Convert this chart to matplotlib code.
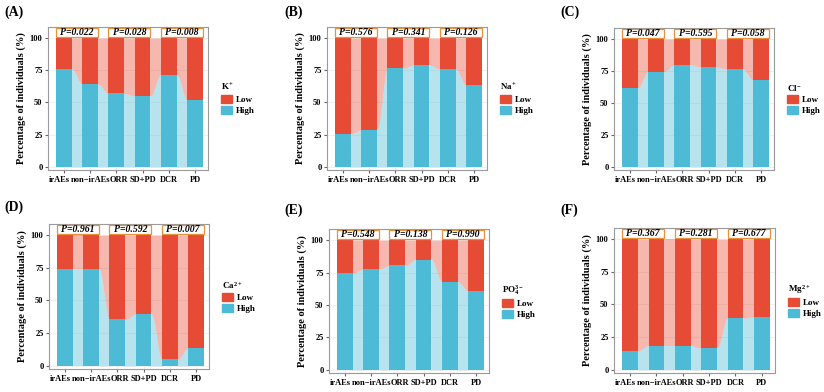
import numpy as np
import matplotlib
matplotlib.use("Agg")
import matplotlib.pyplot as plt
import matplotlib.transforms as mtransforms
from matplotlib.patches import Rectangle, Patch

plt.rcParams['font.family'] = ['Liberation Serif', 'DejaVu Serif']
plt.rcParams['font.weight'] = 'bold'
plt.rcParams['mathtext.fontset'] = 'custom'
plt.rcParams['mathtext.rm'] = 'Liberation Serif:bold'
plt.rcParams['mathtext.it'] = 'Liberation Serif:italic:bold'
plt.rcParams['mathtext.bf'] = 'Liberation Serif:bold'
plt.rcParams['mathtext.default'] = 'bf'

groups = ["irAEs", "non\u2212irAEs", "ORR", "SD+PD", "DCR", "PD"]
panel_tags = ["(A)", "(B)", "(C)", "(D)", "(E)", "(F)"]
ions = [r"K$^{+}$", r"Na$^{+}$", r"Cl$^{-}$", r"Ca$^{2+}$", r"PO$_{4}^{3-}$", r"Mg$^{2+}$"]

# percentage "High" for each group
high_K = [76, 64, 57, 55, 71.5, 52]
high_Na = [25.5, 28.5, 76.5, 79, 76, 63.5]
high_Cl = [62, 74.5, 80, 78, 76.5, 68]
high_Ca = [74, 74, 35.5, 39.5, 5, 13.5]
high_PO4 = [74.5, 77.5, 80.5, 85, 68, 61]
high_Mg = [14.5, 18.5, 18.5, 16.5, 39.5, 40.5]
highs = [high_K, high_Na, high_Cl, high_Ca, high_PO4, high_Mg]

p_K = ["0.022", "0.028", "0.008"]
p_Na = ["0.576", "0.341", "0.126"]
p_Cl = ["0.047", "0.595", "0.058"]
p_Ca = ["0.961", "0.592", "0.007"]
p_PO4 = ["0.548", "0.138", "0.990"]
p_Mg = ["0.367", "0.281", "0.677"]
pvals = [p_K, p_Na, p_Cl, p_Ca, p_PO4, p_Mg]

RED = "#E64B35"
BLUE = "#4DBBD5"
W, H = 824, 392

# axes boxes in pixels: left, top, right, bottom
boxes = [(48, 27, 208, 170), (327, 27, 487, 170), (614, 28, 774, 170),
         (49, 224, 209, 369), (329, 229, 489, 373), (614, 228, 775, 373)]
tag_pos = [(4, 12), (284, 12), (560, 12), (4, 207), (284, 210), (560, 210)]
label_nudge = [-5, 0, 2.5, 0, 0, 0]  # px

fig = plt.figure(figsize=(W / 100, H / 100), dpi=100)
bw = 0.6

for k in range(6):
    l, t, r, b = boxes[k]
    ax = fig.add_axes([l / W, 1 - b / H, (r - l) / W, (b - t) / H])
    hi = highs[k]
    x = np.arange(1, 7)
    ax.bar(x, hi, width=bw, color=BLUE, zorder=3, lw=0)
    ax.bar(x, [100 - v for v in hi], bottom=hi, width=bw, color=RED, zorder=3, lw=0)
    # flows between adjacent columns
    for i in range(5):
        xa = x[i] + bw / 2
        xb = x[i + 1] - bw / 2
        s = np.linspace(0, 1, 60)
        xs = xa + (xb - xa) * s
        s = (1 - np.cos(np.pi * s)) / 2
        yb = hi[i] + (hi[i + 1] - hi[i]) * s
        xs = np.concatenate([[xa - 0.03], xs, [xb + 0.03]])
        yb = np.concatenate([[yb[0]], yb, [yb[-1]]])
        ax.fill_between(xs, 0, yb, color=BLUE, alpha=0.4, lw=0, zorder=2)
        ax.fill_between(xs, yb, 100, color=RED, alpha=0.4, lw=0, zorder=2)
    # p-value boxes
    for j in range(3):
        x0 = x[2 * j] - bw / 2
        x1 = x[2 * j + 1] + bw / 2
        ax.add_patch(Rectangle((x0, 100.8), x1 - x0, 7.4, facecolor="white",
                               edgecolor="#E8913A", lw=0.9, zorder=4))
        ax.text((x0 + x1) / 2, 104.5, "P=" + pvals[k][j], ha="center", va="center",
                fontsize=7, fontstyle="italic", fontweight="bold", zorder=5)
    ax.set_xlim(0.39, 6.5)
    ax.set_ylim(-2.5, 108.6)
    ax.set_xticks(x)
    ax.set_xticklabels(groups)
    ax.set_yticks([0, 25, 50, 75, 100])
    ax.tick_params(labelsize=6, length=2.5, color="#666666", pad=1.5)
    for lab in ax.get_xticklabels() + ax.get_yticklabels():
        lab.set_fontweight("bold")
    # small nudge so neighbouring labels don't touch
    for lab, dx in zip(ax.get_xticklabels(), label_nudge):
        if dx:
            lab.set_transform(lab.get_transform() + mtransforms.ScaledTranslation(dx / 100, 0, fig.dpi_scale_trans))
    ax.set_ylabel("Percentage of individuals (%)", fontsize=7.5, fontweight="bold", labelpad=3)
    ax.grid(color="#EBEBEB", lw=0.5, zorder=0)
    ax.set_axisbelow(True)
    for sp in ax.spines.values():
        sp.set_color("#9A9A9A")
        sp.set_linewidth(0.8)
    handles = [Patch(color=RED, label="Low"), Patch(color=BLUE, label="High")]
    leg = ax.legend(handles=handles, title=ions[k], loc="center left",
                    bbox_to_anchor=(1 + 13 / (r - l), 0.5), frameon=False, fontsize=6.5,
                    title_fontsize=6.5, handlelength=1.2, handleheight=1.0,
                    handletextpad=0.5, labelspacing=0.2, alignment="left",
                    borderaxespad=0, borderpad=0)
    leg.get_title().set_fontweight("bold")
    for txt in leg.get_texts():
        txt.set_fontweight("bold")
    tx, ty = tag_pos[k]
    fig.text(tx / W, 1 - ty / H, panel_tags[k], fontsize=10, fontweight="bold",
             ha="left", va="center")

fig.savefig("out.png", dpi=100)
